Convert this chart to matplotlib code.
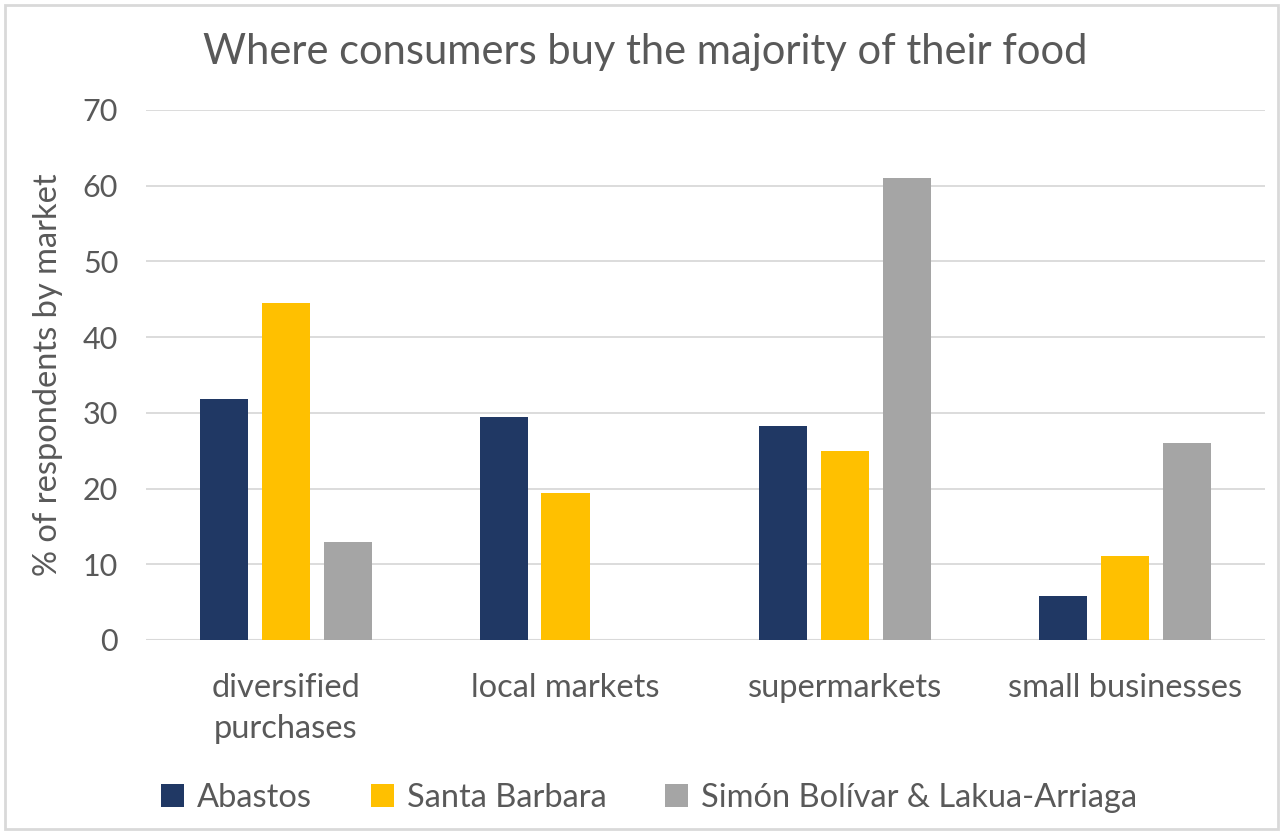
import numpy as np
import matplotlib.pyplot as plt
from matplotlib.patches import Rectangle

plt.rcParams['font.family'] = ['Lato', 'DejaVu Sans']

categories = ['diversified\npurchases', 'local markets', 'supermarkets', 'small businesses']
series_names = ['Abastos', 'Santa Barbara', 'Simón Bolívar & Lakua-Arriaga']
abastos = [31.8, 29.4, 28.2, 5.8]
santa_barbara = [44.5, 19.4, 25.0, 11.1]
simon_bolivar = [13.0, 0.0, 61.0, 26.0]
colors = ['#203864', '#FFC000', '#A5A5A5']

text_col = '#595959'
grid_col = '#D9D9D9'

fig = plt.figure(figsize=(12.83, 8.32), dpi=100)
ax = fig.add_axes([0.1138, 0.2308, 0.872, 0.637])

x = np.arange(len(categories))
w = 0.172
step = 0.221
for i, vals in enumerate([abastos, santa_barbara, simon_bolivar]):
    ax.bar(x + (i - 1) * step, vals, width=w, color=colors[i],
           label=series_names[i], zorder=3)

ax.set_xlim(-0.5, 3.5)
ax.set_ylim(0, 70)
ax.set_yticks(range(0, 71, 10))
ax.set_xticks(x)
ax.set_xticklabels(categories, fontsize=23.5, color=text_col, linespacing=1.45)
ax.tick_params(axis='y', labelsize=22, colors=text_col, length=0, pad=20)
ax.tick_params(axis='x', length=0, pad=24)
ax.grid(axis='y', color=grid_col, lw=1.3, zorder=0)
for s in ax.spines.values():
    s.set_visible(False)
ax.axhline(0, color=grid_col, lw=1.5, zorder=2)

ax.set_ylabel('% of respondents by market', fontsize=23.5, color=text_col, labelpad=14)

fig.text(0.503, 0.937, 'Where consumers buy the majority of their food',
         ha='center', va='center', fontsize=30, color=text_col)

leg = fig.legend(loc='center', bbox_to_anchor=(0.506, 0.041), ncol=3,
                 frameon=False, fontsize=23.5, handlelength=0.7, handleheight=0.7,
                 handletextpad=0.4, columnspacing=1.8)
for t in leg.get_texts():
    t.set_color(text_col)

# thin outer border around the chart area
fig.patches.append(Rectangle((0.004, 0.004), 0.992, 0.99, transform=fig.transFigure,
                             fill=False, edgecolor='#D9D9D9', lw=2))

fig.savefig('out.png', dpi=100)
